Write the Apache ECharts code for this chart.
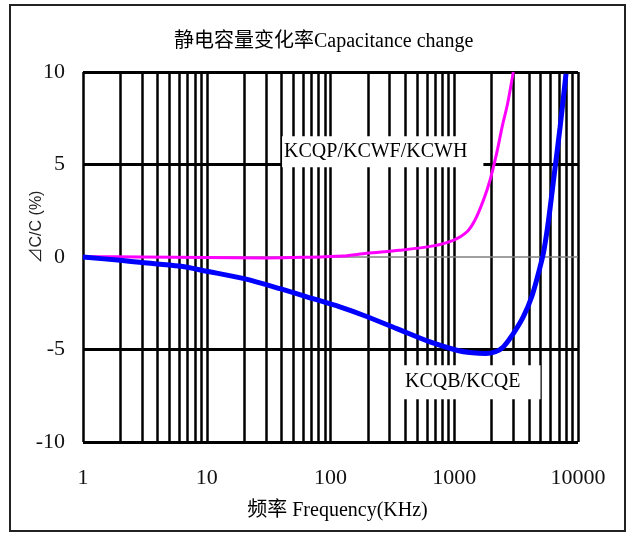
<!DOCTYPE html>
<html>
<head>
<meta charset="utf-8">
<script src="https://cdn.jsdelivr.net/npm/echarts@6/dist/echarts.min.js"></script>
<style>
html,body{margin:0;padding:0;background:#fff;}
#c{width:629px;height:534px;}
</style>
</head>
<body>
<div id="c"></div>
<script>
// Data
var titleText = '静电容量变化率Capacitance change';
var xName = '频率 Frequency(KHz)';
var yName = '⊿C/C (%)';
var xTicks = [1, 10, 100, 1000, 10000];
var yTicks = [-10, -5, 0, 5, 10];

var freqP = [1, 3, 10, 30, 60, 126, 196, 363, 676, 982, 1262, 1472, 1718, 1945, 2200, 2450, 2700, 3000];
var capP  = [0.02, 0, -0.03, -0.05, -0.02, 0.05, 0.2, 0.36, 0.6, 0.9, 1.35, 2.0, 3.06, 4.15, 5.6, 7.1, 8.3, 10];

var freqB = [1, 2, 3, 6, 10, 20, 39, 72, 119, 184, 343, 637, 1047, 1400, 1800, 2150, 2490, 3000, 3610, 4220, 4780, 5250, 5590, 5940, 6520, 7160, 8000];
var capB  = [0, -0.18, -0.3, -0.49, -0.77, -1.17, -1.71, -2.25, -2.7, -3.15, -3.87, -4.59, -5.04, -5.18, -5.22, -5.12, -4.86, -4.14, -3.24, -2.16, -0.9, 0.2, 1.3, 2.6, 4.8, 7.0, 9.9];

var labelP = 'KCQP/KCWF/KCWH';
var labelB = 'KCQB/KCQE';
var labelPAt = [40.6, 5.69];
var labelBAt = [385, -6.77];

// grid line positions (1..9 per decade)
var vLines = [];
for (var d = 1; d <= 1000; d *= 10) {
  for (var k = 1; k <= 9; k++) vLines.push(d * k);
}
vLines.push(10000);
var hBlack = [-10, -5, 5, 10];
var hGray = [0];

function pairs(xs, ys) { return xs.map(function (x, i) { return [x, ys[i]]; }); }

var serif = "'Liberation Serif', 'Times New Roman', 'Noto Sans CJK SC', serif";

var chart = echarts.init(document.getElementById('c'));
var gridLineData = vLines.map(function (v) { return { xAxis: v, lineStyle: { color: '#000', width: 2.5, type: 'solid' } }; })
  .concat(hBlack.map(function (v) { return { yAxis: v, lineStyle: { color: '#000', width: 3, type: 'solid' } }; }))
  .concat(hGray.map(function (v) { return { yAxis: v, lineStyle: { color: '#808080', width: 1.5, type: 'solid' } }; }));

chart.setOption({
  animation: false,
  backgroundColor: '#fff',
  title: {
    text: titleText,
    left: 169, top: 27,
    textStyle: { fontFamily: serif, fontSize: 20, fontWeight: 'normal', color: '#000' }
  },
  graphic: [{
    type: 'rect', shape: { x: 10, y: 5, width: 615, height: 526 },
    style: { fill: null, stroke: '#222', lineWidth: 2 }, z: 100, silent: true
  }],
  grid: { left: 83, right: 51, top: 72, bottom: 92 },
  xAxis: {
    type: 'log', logBase: 10, min: 1, max: 10000,
    axisLine: { show: false }, axisTick: { show: false }, splitLine: { show: false },
    axisLabel: { fontFamily: serif, fontSize: 22, color: '#111', margin: 25, formatter: function (v) { return String(v); } },
    name: xName, nameLocation: 'middle', nameGap: 59, nameMoveOverlap: false,
    nameTextStyle: { fontFamily: serif, fontSize: 20, color: '#000', padding: [0, 0, 0, 14] }
  },
  yAxis: {
    type: 'value', min: -10, max: 10, interval: 5,
    axisLine: { show: false }, axisTick: { show: false }, splitLine: { show: false },
    axisLabel: { fontFamily: serif, fontSize: 22, color: '#111', margin: 18 },
    name: yName, nameLocation: 'middle', nameGap: 38, nameRotate: 90, nameMoveOverlap: false,
    nameTextStyle: { fontFamily: "'Liberation Sans', Arial, 'Noto Sans CJK JP', sans-serif", fontSize: 16, color: '#222', padding: [0, 0, 0, 60] }
  },
  series: [
    {
      type: 'line', data: [[1, 0]], symbol: 'none', lineStyle: { opacity: 0 }, z: 1, silent: true,
      markLine: { silent: true, z: 1, symbol: 'none', label: { show: false }, data: gridLineData, animation: false }
    },
    {
      type: 'line', data: [[1, 0]], symbol: 'none', lineStyle: { opacity: 0 }, z: 2, silent: true,
      markPoint: {
        z: 2, symbol: 'circle', symbolSize: 0, silent: true,
        data: [
          { coord: labelPAt, label: { show: true, position: 'right', distance: 0, formatter: labelP,
            fontFamily: serif, fontSize: 20, color: '#000', backgroundColor: '#fff', lineHeight: 20, padding: [5, 16, 6, 2] } },
          { coord: labelBAt, label: { show: true, position: 'right', distance: 0, formatter: labelB,
            fontFamily: serif, fontSize: 20, color: '#000', backgroundColor: '#fff', lineHeight: 20, padding: [3, 20, 11, 2] } }
        ]
      }
    },
    {
      name: 'KCQP', type: 'line', data: pairs(freqP, capP), showSymbol: false, symbol: 'none',
      smooth: 0.3, z: 10,
      lineStyle: { color: '#ff00ff', width: 3 }
    },
    {
      name: 'KCQB', type: 'line', data: pairs(freqB, capB), showSymbol: false, symbol: 'none',
      smooth: 0.3, z: 11,
      lineStyle: { color: '#0000ff', width: 5 }
    }
  ]
});
</script>
</body>
</html>
